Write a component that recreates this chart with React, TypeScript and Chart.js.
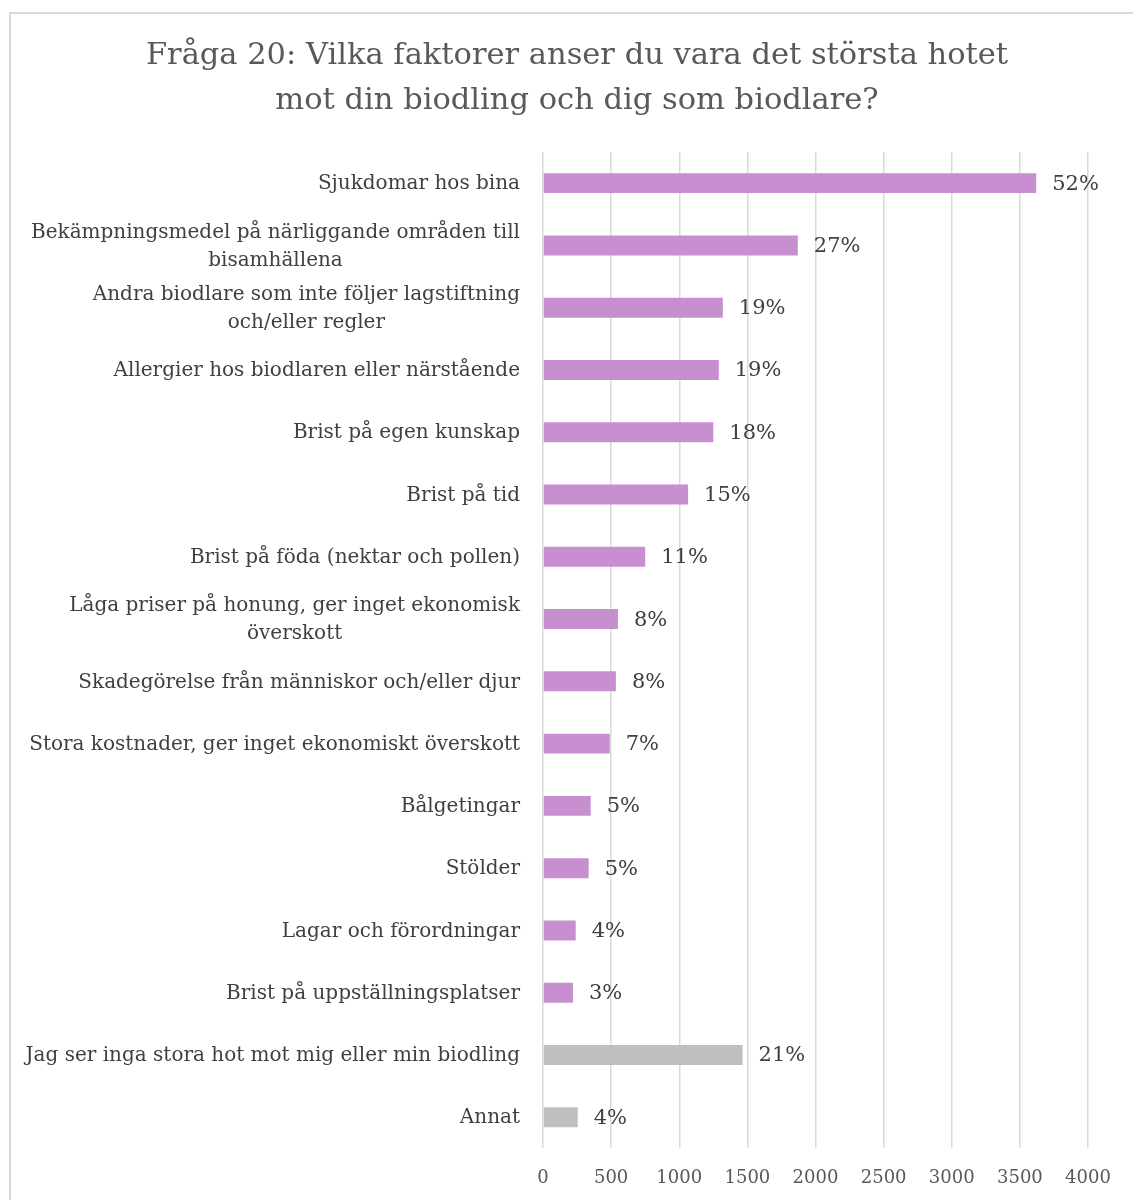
import React, { useEffect, useRef } from "react";
import { Chart, registerables } from "chart.js";

Chart.register(...registerables);

const titleLines = [
  "Fråga 20: Vilka faktorer anser du vara det största hotet",
  "mot din biodling och dig som biodlare?",
];

const categories: string[][] = [
  ["Sjukdomar hos bina"],
  ["Bekämpningsmedel på närliggande områden till", "bisamhällena"],
  ["Andra biodlare som inte följer lagstiftning", "och/eller regler"],
  ["Allergier hos biodlaren eller närstående"],
  ["Brist på egen kunskap"],
  ["Brist på tid"],
  ["Brist på föda (nektar och pollen)"],
  ["Låga priser på honung, ger inget ekonomisk", "överskott"],
  ["Skadegörelse från människor och/eller djur"],
  ["Stora kostnader, ger inget ekonomiskt överskott"],
  ["Bålgetingar"],
  ["Stölder"],
  ["Lagar och förordningar"],
  ["Brist på uppställningsplatser"],
  ["Jag ser inga stora hot mot mig eller min biodling"],
  ["Annat"],
];

const values = [3620, 1870, 1320, 1290, 1250, 1065, 750, 550, 535, 490, 350, 335, 240, 220, 1465, 255];

const percentLabels = ["52%", "27%", "19%", "19%", "18%", "15%", "11%", "8%", "8%", "7%", "5%", "5%", "4%", "3%", "21%", "4%"];

const groups = ["hot", "hot", "hot", "hot", "hot", "hot", "hot", "hot", "hot", "hot", "hot", "hot", "hot", "hot", "none", "other"];

const xMin = 0;
const xMax = 4000;
const xStep = 500;

const PURPLE = "#C78FCF";
const GRAY = "#BFBFBF";
const FONT = "'DejaVu Serif', serif";

const textPlugin = {
  id: "customText",
  afterDraw(chart: any) {
    const ctx = chart.ctx as CanvasRenderingContext2D;
    const yScale = chart.scales.y;
    const area = chart.chartArea;
    ctx.save();
    // title
    ctx.fillStyle = "#595959";
    ctx.font = `30.5px ${FONT}`;
    ctx.textAlign = "center";
    ctx.textBaseline = "middle";
    titleLines.forEach((t, i) => ctx.fillText(t, 568, 44 + i * 45));

    // category labels
    ctx.fillStyle = "#404040";
    ctx.font = `20px ${FONT}`;
    const rightEdge = area.left - 23;
    const lineH = 28;
    categories.forEach((lines, i) => {
      const cy = yScale.getPixelForValue(i) + 1;
      const widths = lines.map((l) => ctx.measureText(l).width);
      const bw = Math.max(...widths);
      const cx = rightEdge - bw / 2;
      const startY = cy - ((lines.length - 1) * lineH) / 2;
      ctx.textAlign = "center";
      lines.forEach((l, j) => ctx.fillText(l, cx, startY + j * lineH));
    });

    // data labels
    const meta = chart.getDatasetMeta(0);
    ctx.font = `21px ${FONT}`;
    ctx.textAlign = "left";
    meta.data.forEach((bar: any, i: number) => {
      ctx.fillText(percentLabels[i], bar.x + 16, bar.y + 1);
    });
    ctx.restore();
  },
};

export default function App() {
  const ref = useRef<HTMLCanvasElement | null>(null);
  useEffect(() => {
    if (!ref.current) return;
    const chart = new Chart(ref.current, {
      type: "bar",
      data: {
        labels: categories.map((c) => c.join(" ")),
        datasets: [
          {
            data: values,
            backgroundColor: groups.map((g) => (g === "hot" ? PURPLE : GRAY)),
            barPercentage: 0.64,
            categoryPercentage: 0.5,
          },
        ],
      },
      options: {
        indexAxis: "y",
        responsive: false,
        animation: false,
        devicePixelRatio: 1,
        layout: { padding: { left: 534, top: 140, right: 57, bottom: 0 } },
        plugins: {
          legend: { display: false },
          title: { display: false },
          tooltip: { enabled: false },
        },
        scales: {
          x: {
            min: xMin,
            max: xMax,
            ticks: {
              stepSize: xStep,
              color: "#595959",
              font: { family: FONT, size: 18 },
              padding: 19,
              callback: (v: any) => String(v),
            },
            grid: { color: "#D9D9D9", lineWidth: 1.5, drawTicks: false },
            border: { display: false },
          },
          y: { display: false },
        },
      },
      plugins: [textPlugin],
    });
    return () => chart.destroy();
  }, []);

  return (
    <div
      style={{
        position: "absolute",
        left: 9,
        top: 12,
        width: 1124,
        height: 1188,
        overflow: "hidden",
        borderTop: "2px solid #D9D9D9",
        borderLeft: "2px solid #D9D9D9",
        boxSizing: "border-box",
        background: "#fff",
      }}
    >
      <canvas ref={ref} width={1136} height={1196} style={{ display: "block", marginLeft: -2, marginTop: -2 }} />
    </div>
  );
}
